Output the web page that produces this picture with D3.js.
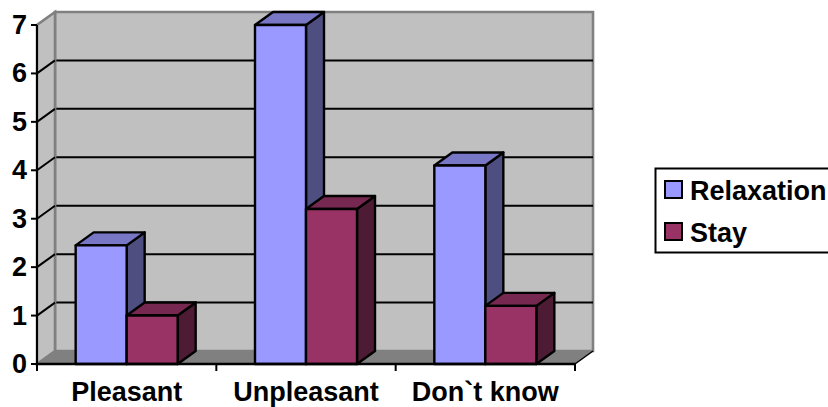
<!DOCTYPE html>
<html>
<head>
<meta charset="utf-8">
<script src="https://cdn.jsdelivr.net/npm/d3@7/dist/d3.min.js"></script>
<style>
html,body{margin:0;padding:0;background:#fff;overflow:hidden}
text{font-family:"Liberation Sans",Arial,sans-serif;font-weight:bold;fill:#000}
</style>
</head>
<body>
<svg id="chart" width="828" height="407"></svg>
<script>
// Survey answers, charted as clustered 3D columns
const categories = ["Pleasant", "Unpleasant", "Don`t know"];
const seriesNames = ["Relaxation", "Stay"];
const relaxation = [2.45, 7, 4.1];
const stay = [1, 3.2, 1.2];
const yTicks = [0, 1, 2, 3, 4, 5, 6, 7];
const frontColors = ["#9999ff", "#993366"];
const topColors = ["#7777c6", "#772850"];
const sideColors = ["#4e4e80", "#4e1b34"];

const svg = d3.select("#chart");
const depthX = 18, depthY = -13;
const x = d3.scaleBand().domain(categories).range([37, 575]);
const inner = d3.scaleBand().domain(seriesNames).range([0, x.bandwidth()]).paddingOuter(0.758);
const y = d3.scaleLinear().domain([0, 7]).range([364, 25]);
const poly = pts => pts.map(p => p.join(",")).join(" ");

const x0 = x.range()[0], x1 = x.range()[1], y0 = y(0), yTop = y(7);

// Back wall, side wall and floor
svg.append("polygon")
  .attr("points", poly([[x0 + depthX, y0 + depthY], [x1 + depthX, y0 + depthY], [x1 + depthX, yTop + depthY], [x0 + depthX, yTop + depthY]]))
  .attr("fill", "#c0c0c0").attr("stroke", "#808080").attr("stroke-width", 2.6);
svg.append("polygon")
  .attr("points", poly([[x0, y0], [x0 + depthX, y0 + depthY], [x0 + depthX, yTop + depthY], [x0, yTop]]))
  .attr("fill", "#c0c0c0").attr("stroke", "#808080").attr("stroke-width", 2.6);
svg.append("polygon")
  .attr("points", poly([[x0, y0], [x1, y0], [x1 + depthX, y0 + depthY], [x0 + depthX, y0 + depthY]]))
  .attr("fill", "#808080");

// Gridlines wrap from the side wall onto the back wall
const gridValues = yTicks.filter(v => v > 0 && v < 7);
svg.append("g").selectAll("polyline").data(gridValues).join("polyline")
  .attr("points", v => poly([[x0, y(v)], [x0 + depthX, y(v) + depthY]]))
  .attr("fill", "none").attr("stroke", "#000").attr("stroke-width", 2);
svg.append("g").selectAll("line").data(gridValues).join("line")
  .attr("x1", x0 + depthX + 1.3).attr("x2", x1 + depthX)
  .attr("y1", v => y(v) + depthY).attr("y2", v => y(v) + depthY)
  .attr("stroke", "#000").attr("stroke-width", 2);

// Floor edge at the right end
svg.append("line")
  .attr("x1", x1).attr("y1", y0).attr("x2", x1 + depthX).attr("y2", y0 + depthY)
  .attr("stroke", "#000").attr("stroke-width", 1.5);

// Columns, drawn series by series inside each category
const valuesBySeries = [relaxation, stay];
categories.forEach((cat, c) => {
  seriesNames.forEach((name, s) => {
    const v = valuesBySeries[s][c];
    const left = x(cat) + inner(name);
    const right = left + inner.bandwidth();
    const top = y(v);
    const g = svg.append("g").attr("stroke", "#000").attr("stroke-width", 2.4).attr("stroke-linejoin", "round");
    g.append("polygon")
      .attr("points", poly([[right, top], [right + depthX, top + depthY], [right + depthX, y0 + depthY], [right, y0]]))
      .attr("fill", sideColors[s]);
    g.append("polygon")
      .attr("points", poly([[left, top], [left + depthX, top + depthY], [right + depthX, top + depthY], [right, top]]))
      .attr("fill", topColors[s]);
    g.append("rect")
      .attr("x", left).attr("y", top)
      .attr("width", right - left).attr("height", y0 - top)
      .attr("fill", frontColors[s]);
  });
});

// Value axis
const yAxis = svg.append("g");
yAxis.append("line").attr("x1", x0).attr("x2", x0).attr("y1", yTop).attr("y2", y0)
  .attr("stroke", "#000").attr("stroke-width", 2);
yAxis.selectAll("line.tick").data(yTicks).join("line").attr("class", "tick")
  .attr("x1", x0 - 6).attr("x2", x0).attr("y1", d => y(d)).attr("y2", d => y(d))
  .attr("stroke", "#000").attr("stroke-width", 2);
yAxis.selectAll("text").data(yTicks).join("text")
  .attr("x", 27).attr("y", d => y(d) + 9)
  .attr("text-anchor", "end").attr("font-size", 27).text(d => d);

// Category axis
const xAxis = svg.append("g");
xAxis.append("line").attr("x1", x0 - 1).attr("x2", x1 + 1).attr("y1", y0).attr("y2", y0)
  .attr("stroke", "#000").attr("stroke-width", 2.4);
const tickXs = categories.map(c => x(c)).concat(x1);
xAxis.selectAll("line.tick").data(tickXs).join("line").attr("class", "tick")
  .attr("x1", d => d).attr("x2", d => d).attr("y1", y0).attr("y2", y0 + 7)
  .attr("stroke", "#000").attr("stroke-width", 2);
xAxis.selectAll("text").data(categories).join("text")
  .attr("x", d => x(d) + x.bandwidth() / 2).attr("y", 401)
  .attr("text-anchor", "middle").attr("font-size", 27).text(d => d);

// Legend
const legend = svg.append("g");
legend.append("rect").attr("x", 655.5).attr("y", 168.5).attr("width", 190).attr("height", 84)
  .attr("fill", "#fff").attr("stroke", "#000").attr("stroke-width", 2);
const legendY = d3.scalePoint().domain(seriesNames).range([190, 232]);
seriesNames.forEach((name, s) => {
  legend.append("rect")
    .attr("x", 665).attr("y", legendY(name) - 9).attr("width", 17).attr("height", 17)
    .attr("fill", frontColors[s]).attr("stroke", "#000").attr("stroke-width", 2);
  legend.append("text")
    .attr("x", 690).attr("y", legendY(name) + 10)
    .attr("font-size", 27).text(name);
});
</script>
</body>
</html>
